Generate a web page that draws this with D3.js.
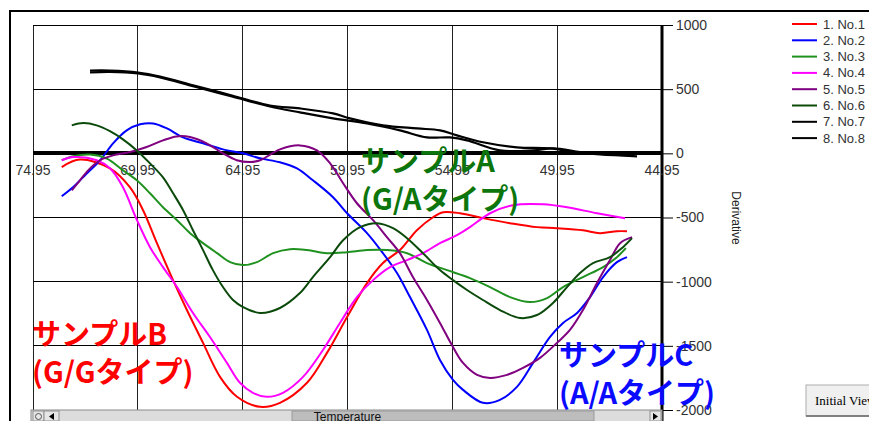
<!DOCTYPE html>
<html>
<head>
<meta charset="utf-8">
<script src="https://cdn.jsdelivr.net/npm/d3@7"></script>
<style>
  html, body { margin: 0; padding: 0; background: #fff; }
  svg { display: block; }
</style>
</head>
<body>
<svg id="chart" width="869" height="421"></svg>
<script>
// Axis ticks
const xTicks = [74.95, 69.95, 64.95, 59.95, 54.95, 49.95, 44.95];
const yTicks = [1000, 500, 0, -500, -1000, -1500, -2000];

// Legend
const seriesNames = ['1. No.1', '2. No.2', '3. No.3', '4. No.4',
  '5. No.5', '6. No.6', '7. No.7', '8. No.8'];
const seriesColors = ['#ff0000', '#0000ff', '#1f911f', '#ff00ff',
  '#800080', '#0b4a0b', '#000000', '#000000'];

// Melt curves, [temperature, derivative]
const no1 = [[73.58, -107], [72.71, -49], [71.28, -117], [70.33, -264], [69.70, -443],
  [69.04, -700], [68.27, -988], [67.61, -1221], [66.84, -1477], [66.03, -1742],
  [65.22, -1897], [64.12, -1975], [63.17, -1944], [61.88, -1788], [60.93, -1555],
  [59.97, -1275], [59.02, -1011], [58.26, -855], [57.45, -754], [56.64, -599],
  [55.87, -498], [55.39, -459], [54.58, -467], [53.49, -505], [52.20, -544],
  [50.91, -575], [49.96, -583], [48.72, -599], [47.91, -622], [47.10, -607], [46.62, -607]];
const no2 = [[73.58, -334], [73.03, -262], [72.39, -158], [71.75, -54], [71.13, 78],
  [70.48, 179], [69.84, 226], [69.22, 233], [68.56, 194], [67.79, 124], [66.84, 78],
  [65.89, 31], [64.93, 0], [64.12, -39], [63.17, -70], [62.36, -117], [61.60, -210],
  [60.64, -342], [59.97, -467], [59.02, -622], [58.26, -778], [57.59, -933],
  [56.97, -1120], [56.16, -1376], [55.54, -1610], [54.92, -1765], [54.44, -1843],
  [53.49, -1944], [52.68, -1921], [51.87, -1820], [51.10, -1633], [50.29, -1431],
  [49.67, -1322], [49.00, -1244], [48.38, -1120], [47.76, -964], [47.10, -848], [46.62, -809]];
const no3 = [[73.58, -54], [73.03, -23], [72.23, -10], [71.43, -41], [70.66, -132],
  [70.00, -210], [69.37, -311], [68.75, -420], [68.08, -521], [67.46, -622],
  [66.84, -700], [66.17, -778], [65.55, -848], [64.93, -871], [64.27, -848],
  [63.50, -778], [62.69, -747], [61.88, -754], [60.93, -778], [59.97, -770],
  [59.02, -754], [58.07, -754], [57.11, -778], [56.16, -855], [55.20, -910],
  [54.11, -972], [53.15, -1042], [52.20, -1120], [51.25, -1159], [50.43, -1128],
  [49.67, -1042], [48.72, -964], [47.76, -886], [47.10, -809], [46.67, -739]];
const no4 = [[73.58, -54], [73.04, -29], [71.91, -54], [71.28, -117], [70.66, -264],
  [69.99, -521], [69.37, -731], [68.75, -887], [68.08, -1042], [67.32, -1244],
  [66.51, -1431], [65.70, -1633], [65.08, -1788], [64.46, -1866], [63.79, -1897],
  [63.03, -1866], [62.07, -1742], [61.12, -1532], [60.31, -1322], [59.50, -1120],
  [58.73, -988], [57.92, -887], [57.11, -832], [56.35, -778], [55.54, -700],
  [54.73, -638], [54.11, -575], [53.15, -467], [52.06, -404], [50.62, -397],
  [49.48, -420], [48.05, -467], [46.71, -505]];
const no5 = [[73.10, -288], [72.71, -210], [72.23, -117], [71.75, -54], [71.13, -16],
  [70.32, 10], [69.53, 49], [68.75, 101], [68.10, 132], [67.46, 127], [66.67, 78],
  [65.89, 0], [65.23, -54], [64.60, -68], [64.12, -54], [63.17, 31], [62.22, 62],
  [61.41, 23], [60.78, -78], [60.16, -233], [59.50, -389], [58.73, -521], [58.07, -653],
  [57.45, -778], [56.83, -964], [56.16, -1143], [55.54, -1322], [54.92, -1509],
  [54.44, -1633], [53.77, -1726], [53.15, -1750], [52.34, -1726], [51.58, -1672],
  [50.77, -1594], [49.96, -1477], [49.34, -1376], [48.72, -1221], [48.05, -1011],
  [47.43, -832], [46.95, -700], [46.38, -653]];
const no6 = [[73.10, 218], [72.55, 236], [71.91, 218], [71.28, 173], [70.66, 109],
  [70.00, 23], [69.37, -78], [68.75, -187], [68.27, -311], [67.79, -443], [67.32, -599],
  [66.84, -754], [66.37, -910], [65.89, -1042], [65.41, -1143], [64.93, -1198],
  [64.12, -1244], [63.17, -1205], [62.22, -1089], [61.60, -964], [60.78, -809],
  [60.16, -677], [59.35, -575], [58.54, -544], [57.78, -583], [57.11, -661],
  [56.35, -778], [55.54, -910], [54.92, -988], [54.25, -1065], [53.49, -1143],
  [52.68, -1221], [51.72, -1283], [50.91, -1260], [50.15, -1166], [49.48, -1042],
  [48.86, -933], [48.24, -855], [47.43, -809], [46.81, -731], [46.38, -661]];
const no7 = [[72.23, 645], [71.28, 645], [69.94, 630], [68.89, 599], [67.27, 529],
  [65.46, 451], [63.65, 373], [62.22, 350], [60.64, 311], [59.83, 272], [58.26, 218],
  [56.63, 194], [55.54, 179], [54.73, 140], [53.49, 86], [51.87, 47], [50.29, 39],
  [49.00, 8], [47.91, -8], [46.14, -23]];
const no8 = [[72.23, 630], [71.28, 634], [69.94, 622], [68.89, 591], [67.27, 521],
  [65.46, 443], [63.65, 365], [62.22, 319], [60.64, 272], [59.02, 233], [57.45, 179],
  [56.16, 124], [55.06, 124], [54.25, 101], [52.68, 23], [51.10, 23], [50.15, 39],
  [48.72, 8], [47.43, -8], [46.48, -16]];
const seriesData = [no1, no2, no3, no4, no5, no6, no7, no8];

// Sample annotations
const notes = [
  { lines: ['サンプルA', '(G/Aタイプ)'], color: '#0c760c', x: 361, y: 172 },
  { lines: ['サンプルB', '(G/Gタイプ)'], color: '#ff0000', x: 32, y: 345 },
  { lines: ['サンプルC', '(A/Aタイプ)'], color: '#0a0aff', x: 559, y: 366 }
];

const LABEL_FONT = '"Liberation Sans", Arial, sans-serif';
const plot = { left: 33, right: 662, top: 25, bottom: 410 };

const svg = d3.select('#chart');

const x = d3.scaleLinear()
  .domain([xTicks[0], xTicks[xTicks.length - 1]])
  .range([plot.left, plot.right]);
const y = d3.scaleLinear()
  .domain([yTicks[0], yTicks[yTicks.length - 1]])
  .range([plot.top, plot.bottom]);

// Outer frame
svg.append('path')
  .attr('d', `M10,421V11H869`)
  .attr('fill', 'none')
  .attr('stroke', '#000')
  .attr('stroke-width', 2);

// Grid
svg.append('g')
  .selectAll('line')
  .data(xTicks)
  .join('line')
    .attr('x1', d => x(d)).attr('x2', d => x(d))
    .attr('y1', plot.top).attr('y2', plot.bottom)
    .attr('stroke', '#222')
    .attr('stroke-width', 1)
    .attr('shape-rendering', 'crispEdges');
svg.append('g')
  .selectAll('line')
  .data(yTicks)
  .join('line')
    .attr('x1', plot.left).attr('x2', plot.right)
    .attr('y1', d => y(d)).attr('y2', d => y(d))
    .attr('stroke', '#000')
    .attr('stroke-width', d => (d === 0 ? 4 : 1))
    .attr('shape-rendering', 'crispEdges');

// Right axis (plain hyphen minus, like the original)
const yAxis = d3.axisRight(y)
  .tickValues(yTicks)
  .tickSize(11)
  .tickPadding(3)
  .tickFormat(d => String(d));
svg.append('g')
  .attr('transform', `translate(${plot.right},0)`)
  .call(yAxis)
  .call(g => g.select('.domain').remove())
  .call(g => g.selectAll('line').attr('stroke', '#000'))
  .call(g => g.selectAll('text')
    .attr('fill', '#333')
    .style('font', `14px ${LABEL_FONT}`));
svg.append('line')
  .attr('x1', plot.right).attr('x2', plot.right)
  .attr('y1', plot.top).attr('y2', plot.bottom + 11)
  .attr('stroke', '#000')
  .attr('stroke-width', 3);

// X tick labels hang under the zero line
svg.append('g')
  .selectAll('text')
  .data(xTicks)
  .join('text')
    .attr('x', d => x(d))
    .attr('y', y(0) + 22)
    .attr('text-anchor', 'middle')
    .attr('fill', '#333')
    .style('font', `14px ${LABEL_FONT}`)
    .text(d => d.toFixed(2));

svg.append('text')
  .attr('transform', 'translate(732,218) rotate(90)')
  .attr('text-anchor', 'middle')
  .attr('fill', '#222')
  .style('font', `12px ${LABEL_FONT}`)
  .text('Derivative');

// Curves
const line = d3.line()
  .x(d => x(d[0]))
  .y(d => y(d[1]))
  .curve(d3.curveCatmullRom.alpha(0.5));

svg.append('g')
  .selectAll('path')
  .data(seriesData)
  .join('path')
    .attr('d', line)
    .attr('fill', 'none')
    .attr('stroke', (d, i) => seriesColors[i])
    .attr('stroke-width', (d, i) => (i >= 6 ? 2.2 : 2))
    .attr('stroke-linejoin', 'round');

// Legend
const legend = svg.append('g')
  .selectAll('g')
  .data(seriesNames)
  .join('g')
    .attr('transform', (d, i) => `translate(792,${24 + i * 16.3})`);
legend.append('line')
  .attr('x1', 0).attr('x2', 25)
  .attr('stroke', (d, i) => seriesColors[i])
  .attr('stroke-width', 2);
legend.append('text')
  .attr('x', 31)
  .attr('dy', '0.35em')
  .attr('fill', '#333')
  .style('font', `13px ${LABEL_FONT}`)
  .text(d => d);

// Scrollbar under the plot
const bar = svg.append('g').attr('transform', `translate(31,${plot.bottom})`);
bar.append('rect')
  .attr('width', plot.right - 31).attr('height', 12)
  .attr('fill', '#dcdcdc').attr('stroke', '#8a8a8a');
bar.append('rect')
  .attr('x', 261).attr('y', 1).attr('width', 302).attr('height', 10)
  .attr('fill', '#bdbdbd').attr('stroke', '#9a9a9a');
[[2, 11], [13, 15], [619, 11]].forEach(([bx, bw]) => {
  bar.append('rect')
    .attr('x', bx).attr('y', 1).attr('width', bw).attr('height', 10)
    .attr('fill', '#e6e6e6').attr('stroke', '#909090');
});
bar.append('circle').attr('cx', 7.5).attr('cy', 6.5).attr('r', 3)
  .attr('fill', 'none').attr('stroke', '#555');
bar.append('path').attr('d', 'M18,6.5L23,3V10Z').attr('fill', '#000');
bar.append('path').attr('d', 'M627,6.5L622,3V10Z').attr('fill', '#000');
svg.append('text')
  .attr('x', (plot.left + plot.right) / 2)
  .attr('y', 421)
  .attr('text-anchor', 'middle')
  .attr('fill', '#111')
  .style('font', `12px ${LABEL_FONT}`)
  .text('Temperature');

// Initial View button
const btn = svg.append('g').attr('transform', 'translate(806,385)');
btn.append('rect')
  .attr('width', 70).attr('height', 31)
  .attr('fill', '#f0f0f0').attr('stroke', '#adadad');
btn.append('line')
  .attr('x1', 0).attr('x2', 70).attr('y1', 31).attr('y2', 31)
  .attr('stroke', '#666').attr('stroke-width', 1.5);
btn.append('text')
  .attr('x', 9).attr('y', 20)
  .attr('fill', '#000')
  .style('font', '13px "Liberation Serif", serif')
  .text('Initial View');

// Annotations on top
svg.append('g')
  .selectAll('text')
  .data(notes)
  .join('text')
    .attr('x', d => d.x)
    .attr('y', d => d.y)
    .attr('fill', d => d.color)
    .style('font', 'bold 29px "Noto Sans CJK JP", sans-serif')
    .selectAll('tspan')
    .data(d => d.lines.map(t => ({ t, x: d.x })))
    .join('tspan')
      .attr('x', d => d.x)
      .attr('dy', (d, i) => (i === 0 ? 0 : 38))
      .text(d => d.t);
</script>
</body>
</html>
